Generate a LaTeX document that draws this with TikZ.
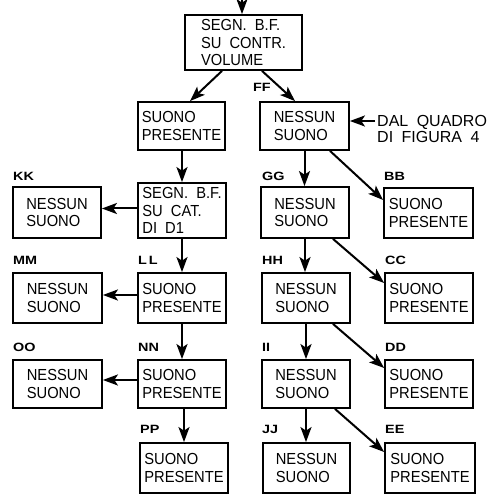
\documentclass[tikz,border=0pt]{standalone}
\usepackage{fontspec}
\setmainfont{Liberation Sans}
\newfontfamily\myboxfam[FakeStretch=0.92]{Liberation Sans}
\newfontfamily\mylabfam[FakeStretch=1.2]{Liberation Sans}
\newcommand\myboxfont{\myboxfam\fontsize{16}{17.5}\selectfont}
\newcommand\mylabfont{\mylabfam\bfseries\fontsize{12}{14}\selectfont}
\newcommand\mydalfont{\fontsize{16}{16.5}\selectfont}
\usetikzlibrary{arrows.meta}
\begin{document}
\begin{tikzpicture}[x=1pt,y=-1pt,
  box/.style={draw, line width=1.8pt, inner sep=0pt, align=left, font=\myboxfont,
    minimum width=88pt, minimum height=50pt},
  lab/.style={anchor=base west, inner sep=0pt, font=\mylabfont},
  arr/.style={line width=2pt, -{Stealth[length=15pt,width=11pt,inset=3.5pt]}}]
\useasboundingbox (0,0) rectangle (496,494);
\fill[white] (0,0) rectangle (496,494);

% boxes
\node[box, minimum width=117pt, minimum height=55pt] (top) at (243.5,42.5) {SEGN.\hspace{4pt} B.F.\\SU\hspace{4pt} CONTR.\\VOLUME};
\node[box, minimum width=87pt, minimum height=48pt] (sp1) at (181.5,126) {SUONO\\PRESENTE};
\node[box, minimum width=89pt, minimum height=48pt] (ff) at (304.5,126) {NESSUN\\SUONO};
\node[anchor=north west, inner sep=0pt, align=left, font=\mydalfont, text depth=0pt] (dal) at (377,115) {DAL\hspace{4pt} QUADRO\\DI\hspace{4pt} FIGURA\hspace{4pt} 4};

\node[box, minimum height=51pt] (kk) at (57,212.5) {NESSUN\\SUONO};
\node[box, minimum height=55pt] (segn) at (182,210.5) {SEGN.\hspace{4pt} B.F.\\SU\hspace{4pt} CAT.\\DI\hspace{4pt} D1};
\node[box, minimum height=51pt] (gg) at (305,212.5) {NESSUN\\SUONO};
\node[box, minimum width=89pt] (bb) at (428.5,213) {SUONO\\PRESENTE};

\node[box, minimum width=89pt] (mm) at (57.5,298) {NESSUN\\SUONO};
\node[box] (ll) at (182,298) {SUONO\\PRESENTE};
\node[box] (hh) at (306,298) {NESSUN\\SUONO};
\node[box] (cc) at (429,298) {SUONO\\PRESENTE};

\node[box, minimum width=89pt, minimum height=48pt] (oo) at (57.5,384) {NESSUN\\SUONO};
\node[box, minimum height=48pt] (nn) at (182,384) {SUONO\\PRESENTE};
\node[box, minimum height=48pt] (ii) at (306,384) {NESSUN\\SUONO};
\node[box, minimum height=48pt] (dd) at (429,384) {SUONO\\PRESENTE};

\node[box] (pp) at (184,468) {SUONO\\PRESENTE};
\node[box, minimum width=87pt] (jj) at (306.5,468) {NESSUN\\SUONO};
\node[box, minimum width=90pt] (ee) at (430,468) {SUONO\\PRESENTE};

% labels
\node[lab] (lff) at (253,92) {FF};
\node[lab] (lkk) at (13,181) {KK};
\node[lab] (lgg) at (262,181) {GG};
\node[lab] (lbb) at (384,181) {BB};
\node[lab] (lmm) at (13,265) {MM};
\node[lab] (lll) at (138,265) {L\hspace{2pt}L};
\node[lab] (lhh) at (262,265) {HH};
\node[lab] (lcc) at (385,265) {CC};
\node[lab] (loo) at (13,352) {OO};
\node[lab] (lnn) at (138,352) {NN};
\node[lab] (lii) at (262,352) {II};
\node[lab] (ldd) at (385,352) {DD};
\node[lab] (lpp) at (140,434) {PP};
\node[lab] (ljj) at (262,434) {JJ};
\node[lab] (lee) at (385,434) {EE};

% connectors
\coordinate (in) at (242,0);
\draw[arr] (in) -- (in |- top.north);
\draw[arr] ([xshift=-21.5pt]top.south) -- ([xshift=8.5pt]sp1.north);
\draw[arr] ([xshift=18.5pt]top.south) -- ([xshift=-9.5pt]ff.north);
\path ([yshift=5pt]ff.east) coordinate (ffin);
\draw[arr] ([xshift=-2pt]dal.west |- ffin) -- (ffin);

\draw[arr] (sp1.south -| segn.north) -- (segn.north);
\draw[arr] (segn.south) -- (ll.north);
\draw[arr] (ll.south) -- (nn.north);
\draw[arr] (nn.south -| pp.north) -- (pp.north);

\draw[arr] (ff.south) -- (ff.south |- gg.north);
\draw[arr] (gg.south) -- (gg.south |- hh.north);
\draw[arr] (hh.south) -- (ii.north);
\draw[arr] (ii.south) -- (ii.south |- jj.north);

\draw[arr] ([xshift=25.5pt]ff.south) -- ([yshift=13pt]bb.west);
\draw[arr] ([xshift=28pt]gg.south) -- ([yshift=15pt]cc.west);
\draw[arr] ([xshift=27pt]hh.south) -- ([yshift=16pt]dd.west);
\draw[arr] ([xshift=29pt]ii.south) -- ([yshift=16pt]ee.west);

\draw[arr] ([yshift=2pt]segn.west) -- ([yshift=2pt]segn.west -| kk.east);
\draw[arr] ([yshift=3pt]ll.west) -- ([yshift=3pt]ll.west -| mm.east);
\draw[arr] ([yshift=4pt]nn.west) -- ([yshift=4pt]nn.west -| oo.east);
\end{tikzpicture}
\end{document}
